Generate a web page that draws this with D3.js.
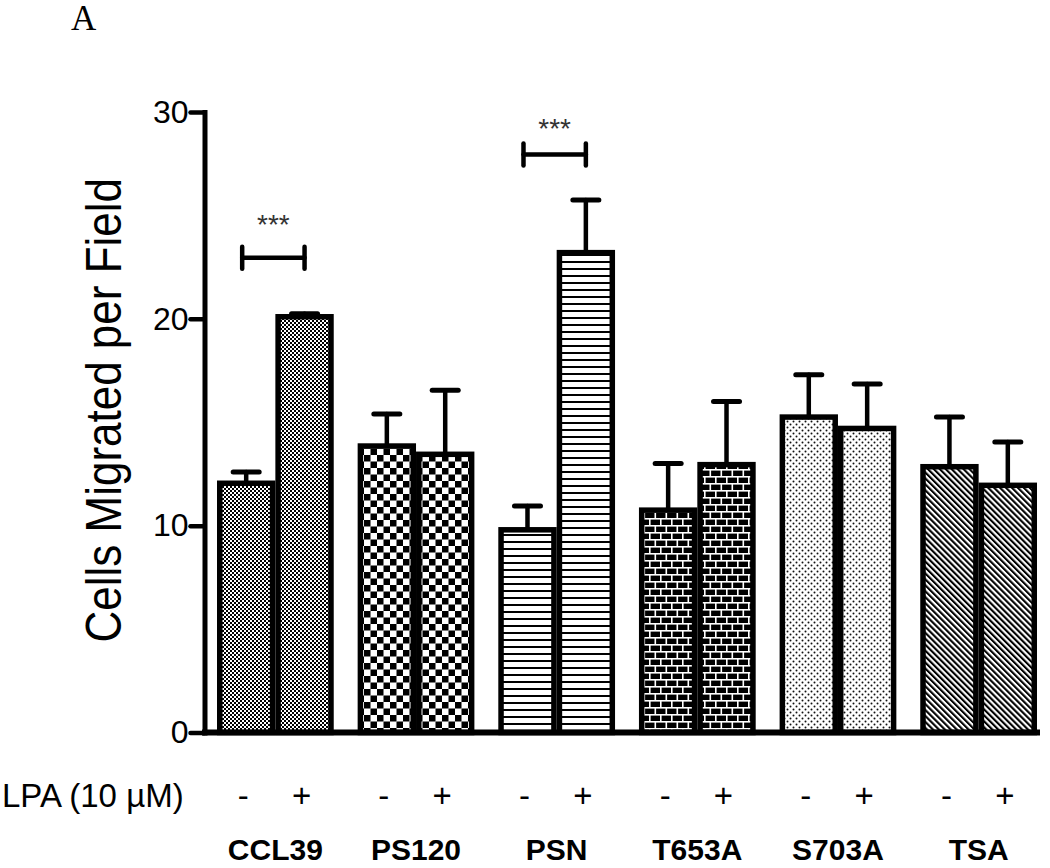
<!DOCTYPE html>
<html><head><meta charset="utf-8">
<script src="https://cdn.jsdelivr.net/npm/d3@7"></script>
<style>body{margin:0;background:#fff}svg{display:block}</style>
</head><body>
<svg id="chart" width="1050" height="868"></svg>
<script>
// ---- data ----
const groups = ["CCL39", "PS120", "PSN", "T653A", "S703A", "TSA"];
const lpaLevels = ["-", "+"];
const meanMinus = [12.05, 13.85, 9.8, 10.75, 15.25, 12.85];
const meanPlus  = [20.1, 13.45, 23.2, 12.95, 14.7, 11.95];
const semMinus  = [0.55, 1.55, 1.15, 2.25, 2.05, 2.4];
const semPlus   = [0.15, 3.1, 2.55, 3.05, 2.15, 2.1];
const yTicks = [0, 10, 20, 30];
const sigGroups = ["CCL39", "PSN"];
const sigLevels = [22.95, 27.95];
const sigStarLevels = [24.1, 28.75];
const sigLabels = ["***", "***"];
const yLabel = "Cells Migrated per Field";
const lpaLabel = "LPA (10 \u00B5M)";
const panelLabel = "A";

// ---- setup ----
const svg = d3.select("#chart");
const font = "'Liberation Sans', Arial, sans-serif";

const x = d3.scaleBand().domain(groups).range([217, 1037]).paddingInner(0.17).paddingOuter(0);
const xs = d3.scaleBand().domain(lpaLevels).range([0, x.bandwidth()]).padding(0);
const y = d3.scaleLinear().domain([0, 30]).range([732.5, 112]);

// ---- patterns ----
const defs = svg.append("defs");
function pat(id, w, h, build, transform) {
  const p = defs.append("pattern").attr("id", id).attr("patternUnits", "userSpaceOnUse")
    .attr("width", w).attr("height", h);
  if (transform) p.attr("patternTransform", transform);
  build(p);
}
pat("p0", 4, 4, p => {
  p.append("rect").attr("width", 4).attr("height", 4).attr("fill", "#fff");
  p.append("rect").attr("width", 2).attr("height", 2).attr("fill", "#000");
  p.append("rect").attr("x", 2).attr("y", 2).attr("width", 2).attr("height", 2).attr("fill", "#000");
});
pat("p1", 13, 13, p => {
  p.append("rect").attr("width", 13).attr("height", 13).attr("fill", "#fff");
  p.append("rect").attr("width", 6.5).attr("height", 6.5).attr("fill", "#000");
  p.append("rect").attr("x", 6.5).attr("y", 6.5).attr("width", 6.5).attr("height", 6.5).attr("fill", "#000");
});
pat("p2", 10, 7, p => {
  p.append("rect").attr("width", 10).attr("height", 7).attr("fill", "#fff");
  p.append("rect").attr("y", 2).attr("width", 10).attr("height", 2).attr("fill", "#000");
});
pat("p3", 11, 14, p => {
  p.append("rect").attr("width", 11).attr("height", 14).attr("fill", "#000");
  p.append("rect").attr("y", 0).attr("width", 11).attr("height", 1.6).attr("fill", "#fff");
  p.append("rect").attr("y", 7).attr("width", 11).attr("height", 1.6).attr("fill", "#fff");
  p.append("rect").attr("x", 0).attr("y", 0).attr("width", 1.6).attr("height", 7).attr("fill", "#fff");
  p.append("rect").attr("x", 5.5).attr("y", 7).attr("width", 1.6).attr("height", 7).attr("fill", "#fff");
});
pat("p4", 6, 6, p => {
  p.append("rect").attr("width", 6).attr("height", 6).attr("fill", "#fff");
  p.append("circle").attr("cx", 1.5).attr("cy", 1.5).attr("r", 1).attr("fill", "#111");
  p.append("circle").attr("cx", 4.5).attr("cy", 4.5).attr("r", 1).attr("fill", "#111");
});
pat("p5", 4.2, 4.2, p => {
  p.append("rect").attr("width", 4.2).attr("height", 4.2).attr("fill", "#fff");
  p.append("rect").attr("width", 2.1).attr("height", 4.2).attr("fill", "#000");
}, "rotate(-45)");

// ---- bars ----
const rows = [];
groups.forEach((g, i) => {
  rows.push({ g, i, lvl: "-", v: meanMinus[i], e: semMinus[i] });
  rows.push({ g, i, lvl: "+", v: meanPlus[i], e: semPlus[i] });
});
const sw = 5.5;
const bars = svg.append("g");
bars.selectAll("rect").data(rows).join("rect")
  .attr("x", d => x(d.g) + xs(d.lvl) + sw / 2)
  .attr("width", xs.bandwidth() - sw)
  .attr("y", d => y(d.v))
  .attr("height", d => y(0) - y(d.v))
  .attr("fill", d => `url(#p${d.i})`)
  .attr("stroke", "#000").attr("stroke-width", sw);

// error bars
const eb = svg.append("g").attr("stroke", "#000").attr("stroke-linecap", "round");
const cx = d => x(d.g) + xs(d.lvl) + xs.bandwidth() / 2;
eb.selectAll("line.stem").data(rows).join("line").attr("class", "stem")
  .attr("x1", cx).attr("x2", cx)
  .attr("y1", d => y(d.v) - sw / 2).attr("y2", d => y(d.v + d.e))
  .attr("stroke-width", 4.5);
eb.selectAll("line.cap").data(rows).join("line").attr("class", "cap")
  .attr("x1", d => cx(d) - 13).attr("x2", d => cx(d) + 13)
  .attr("y1", d => y(d.v + d.e)).attr("y2", d => y(d.v + d.e))
  .attr("stroke-width", 5);

// ---- axes ----
const yAxis = d3.axisLeft(y).tickValues(yTicks).tickSize(14).tickSizeOuter(0).tickPadding(2);
const ya = svg.append("g").attr("transform", "translate(204.5,0)").call(yAxis);
ya.select(".domain").attr("stroke-width", 5).attr("stroke-linecap", "square");
ya.selectAll(".tick line").attr("stroke-width", 4.5).attr("stroke-linecap", "round");
ya.selectAll(".tick text").attr("font-family", font).attr("font-size", 32).attr("fill", "#000");

svg.append("line")
  .attr("x1", 202).attr("x2", x.range()[1] + 3)
  .attr("y1", y(0)).attr("y2", y(0))
  .attr("stroke", "#000").attr("stroke-width", 6);

// y label
svg.append("text")
  .attr("transform", `translate(121,${(y(0) + y(30)) / 2 - 12}) scale(1.12,1) rotate(-90)`)
  .attr("text-anchor", "middle")
  .attr("font-family", font).attr("font-size", 44)
  .text(yLabel);

// panel label
svg.append("text").attr("x", 71).attr("y", 30)
  .attr("font-family", "'Liberation Serif', 'Times New Roman', serif").attr("font-size", 35)
  .text(panelLabel);

// LPA row
svg.append("text").attr("x", 2).attr("y", 807)
  .attr("font-family", font).attr("font-size", 33).text(lpaLabel);
svg.append("g").selectAll("text").data(rows).join("text")
  .attr("x", d => cx(d) - 3).attr("y", 807)
  .attr("text-anchor", "middle")
  .attr("font-family", font).attr("font-size", 33)
  .text(d => d.lvl);

// group labels
svg.append("g").selectAll("text").data(groups).join("text")
  .attr("x", d => x(d) + x.bandwidth() / 2).attr("y", 860)
  .attr("text-anchor", "middle")
  .attr("font-family", font).attr("font-size", 30).attr("font-weight", "bold")
  .text(d => d);

// significance brackets
const sg = svg.append("g");
sigGroups.forEach((g, k) => {
  const x1 = x(g) + xs("-") + xs.bandwidth() / 2 - 4;
  const x2 = x(g) + xs("+") + xs.bandwidth() / 2;
  const yy = y(sigLevels[k]);
  const b = sg.append("g").attr("stroke", "#000").attr("stroke-width", 4.5).attr("stroke-linecap", "round");
  b.append("line").attr("x1", x1).attr("x2", x2).attr("y1", yy).attr("y2", yy);
  b.append("line").attr("x1", x1).attr("x2", x1).attr("y1", yy - 11).attr("y2", yy + 11);
  b.append("line").attr("x1", x2).attr("x2", x2).attr("y1", yy - 11).attr("y2", yy + 11);
  sg.append("text").attr("x", (x1 + x2) / 2).attr("y", y(sigStarLevels[k]))
    .attr("text-anchor", "middle").attr("font-family", font).attr("font-size", 28)
    .attr("fill", "#333").text(sigLabels[k]);
});
</script>
</body></html>
